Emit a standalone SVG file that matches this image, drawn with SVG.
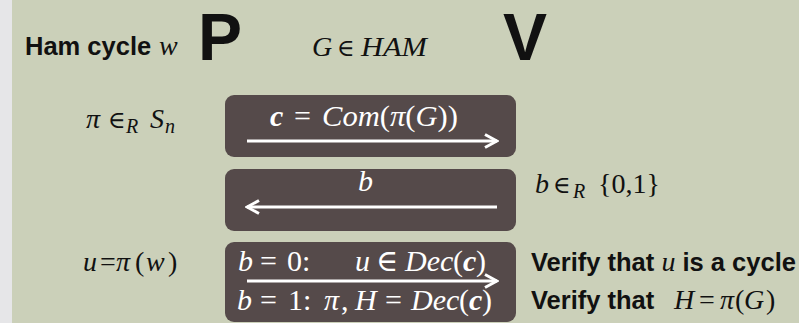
<svg xmlns="http://www.w3.org/2000/svg" width="799" height="323" viewBox="0 0 799 323">
<style>
.bg{fill:#cbd0b9}
.box{fill:#554a4a}
.m{font-family:"Liberation Serif","DejaVu Serif",serif;font-style:italic;font-size:28px;fill:#111}
.mw{font-family:"Liberation Serif","DejaVu Serif",serif;font-style:italic;font-size:30px;fill:#fff}
.up{font-style:normal}
.el{font-style:normal;font-size:24px}
.bd{font-weight:bold}
.s{font-size:20px}
.t{font-family:"Liberation Sans",Arial,sans-serif;font-weight:bold;font-size:25.5px;fill:#111}
.big{font-family:"Liberation Sans",Arial,sans-serif;font-weight:bold;font-size:66px;fill:#111}
.ln{stroke:#fff;stroke-width:3;fill:none}
</style>
<defs>
<marker id="ah" viewBox="0 0 16 16" refX="14" refY="8" markerWidth="16" markerHeight="16" orient="auto-start-reverse" markerUnits="userSpaceOnUse">
<path d="M2,1.5 L14,8 L2,14.5" fill="none" stroke="#fff" stroke-width="3" stroke-linejoin="miter"/>
</marker>
</defs>
<rect x="0" y="0" width="799" height="323" fill="#e6e6e8"/>
<rect class="bg" x="12" y="0" width="787" height="323"/>
<g id="header">
<text class="t" x="25" y="55">Ham cycle</text>
<text class="m" x="159" y="55">w</text>
<text class="big" x="198" y="60">P</text>
<text class="m" y="56"><tspan x="312">G</tspan><tspan class="el" x="337">∈</tspan><tspan x="361" textLength="66" lengthAdjust="spacingAndGlyphs">HAM</tspan></text>
<text class="big" x="503" y="60">V</text>
</g>
<g id="prover">
<text class="m" y="128"><tspan x="86">π</tspan><tspan class="el" x="108">∈</tspan><tspan class="s" x="126" y="133">R</tspan><tspan x="150" y="128">S</tspan><tspan class="s" x="165" y="133">n</tspan></text>
<text class="m" y="271"><tspan x="83">u</tspan><tspan class="up" x="100">=</tspan><tspan x="116">π</tspan><tspan class="up" x="135">(</tspan><tspan x="146">w</tspan><tspan class="up" x="168">)</tspan></text>
</g>
<g id="verifier">
<text class="m" y="193"><tspan x="535">b</tspan><tspan class="el" x="553">∈</tspan><tspan class="s" x="573" y="198">R</tspan><tspan class="up" x="598" y="193" textLength="62" lengthAdjust="spacingAndGlyphs">{0,1}</tspan></text>
<text class="t" x="531" y="271">Verify that <tspan class="m" font-weight="normal">u</tspan> is a cycle</text>
<text class="t" x="531" y="309">Verify that</text>
<text class="m" y="309" font-size="27"><tspan x="674">H</tspan><tspan class="up" x="699">=</tspan><tspan x="720">π</tspan><tspan class="up" x="735">(</tspan><tspan x="744">G</tspan><tspan class="up" x="766">)</tspan></text>
</g>
<g id="msg1">
<rect class="box" x="225" y="95" width="291" height="62" rx="9"/>
<text class="mw" y="126"><tspan class="bd" x="270">c</tspan><tspan class="up" x="294">=</tspan><tspan x="322" textLength="136" lengthAdjust="spacingAndGlyphs">Com<tspan class="up">(</tspan>π<tspan class="up">(</tspan>G<tspan class="up">))</tspan></tspan></text>
</g>
<g id="msg2">
<rect class="box" x="225" y="169" width="291" height="62" rx="9"/>
<text class="mw" x="358" y="191">b</text>
</g>
<g id="msg3">
<rect class="box" x="225" y="242" width="291" height="80" rx="9"/>
<text class="mw" y="271"><tspan x="238">b</tspan><tspan class="up" x="260">=</tspan><tspan class="up" x="287">0:</tspan><tspan x="355">u</tspan><tspan class="up" x="376">∈</tspan><tspan x="405">Dec</tspan><tspan class="up" x="453">(</tspan><tspan class="bd" x="463">c</tspan><tspan class="up" x="476">)</tspan></text>
<text class="mw" y="310"><tspan x="237">b</tspan><tspan class="up" x="260">=</tspan><tspan class="up" x="288">1:</tspan><tspan x="324">π</tspan><tspan class="up" x="341">,</tspan><tspan x="355">H</tspan><tspan class="up" x="385">=</tspan><tspan x="411">Dec</tspan><tspan class="up" x="459">(</tspan><tspan class="bd" x="469">c</tspan><tspan class="up" x="482">)</tspan></text>
</g>
<g id="connectors">
<line class="ln" x1="247" y1="141" x2="497" y2="141" marker-end="url(#ah)"/>
<line class="ln" x1="247" y1="207" x2="497" y2="207" marker-start="url(#ah)"/>
<line class="ln" x1="247" y1="281" x2="497" y2="281" marker-end="url(#ah)"/>
</g>
</svg>
